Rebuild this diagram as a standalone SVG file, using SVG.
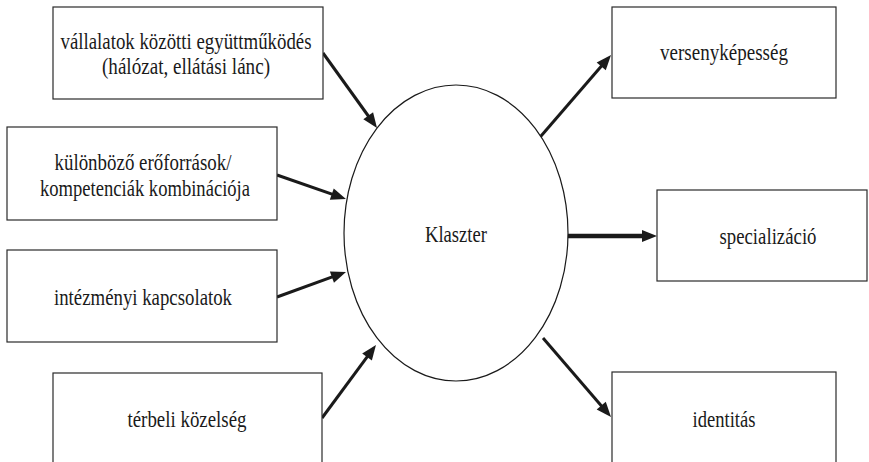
<svg xmlns="http://www.w3.org/2000/svg" width="869" height="462" viewBox="0 0 869 462">
<style>
.box{fill:#fff;stroke:#2a2a2a;stroke-width:1.2}
.ell{fill:#fff;stroke:#1a1a1a;stroke-width:1.2}
.t{font-family:"Liberation Serif","Times New Roman","DejaVu Serif",serif;font-size:23.5px;fill:#1a1a1a;text-anchor:middle}
.c{fill:none;stroke:#1a1a1a;stroke-width:3;stroke-linecap:butt}
.c.thick{stroke-width:4.5}
</style>
<defs>
<marker id="ah" markerUnits="userSpaceOnUse" markerWidth="16" markerHeight="13" refX="7" refY="6" orient="auto" overflow="visible">
<path d="M0,0 L15,6 L0,12 Z" fill="#1a1a1a"/>
</marker>
</defs>
<rect width="869" height="462" fill="#fff"/>
<g id="connectors">
<line class="c" x1="323" y1="53" x2="372.3" y2="121.5" marker-end="url(#ah)"/>
<line class="c" x1="277" y1="175" x2="338.4" y2="196.4" marker-end="url(#ah)"/>
<line class="c" x1="277" y1="297" x2="338.5" y2="274.7" marker-end="url(#ah)"/>
<line class="c" x1="322" y1="418" x2="371.2" y2="351.4" marker-end="url(#ah)"/>
<line class="c" x1="535" y1="143" x2="605.8" y2="61.1" marker-end="url(#ah)"/>
<line class="c thick" x1="567" y1="236" x2="649" y2="236" marker-end="url(#ah)"/>
<line class="c" x1="543" y1="338" x2="605.8" y2="410.9" marker-end="url(#ah)"/>
</g>
<g id="n-vallalatok">
<rect class="box" x="53" y="7" width="270" height="92"/>
<text class="t" x="186" y="49" textLength="251" lengthAdjust="spacingAndGlyphs">vállalatok közötti együttműködés</text>
<text class="t" x="186" y="74" textLength="168" lengthAdjust="spacingAndGlyphs">(hálózat, ellátási lánc)</text>
</g>
<g id="n-eroforrasok">
<rect class="box" x="7" y="127" width="270" height="93"/>
<text class="t" x="143" y="170" textLength="177" lengthAdjust="spacingAndGlyphs">különböző erőforrások/</text>
<text class="t" x="145" y="196" textLength="210" lengthAdjust="spacingAndGlyphs">kompetenciák kombinációja</text>
</g>
<g id="n-intezmenyi">
<rect class="box" x="7" y="250" width="270" height="92"/>
<text class="t" x="143" y="305" textLength="178" lengthAdjust="spacingAndGlyphs">intézményi kapcsolatok</text>
</g>
<g id="n-terbeli">
<rect class="box" x="53" y="373" width="269" height="100"/>
<text class="t" x="187" y="427" textLength="119" lengthAdjust="spacingAndGlyphs">térbeli közelség</text>
</g>
<g id="n-klaszter">
<ellipse class="ell" cx="456" cy="233" rx="112" ry="148"/>
<text class="t" x="456" y="242" textLength="62" lengthAdjust="spacingAndGlyphs">Klaszter</text>
</g>
<g id="n-versenykepesseg">
<rect class="box" x="612" y="7" width="224" height="91"/>
<text class="t" x="724" y="60" textLength="128" lengthAdjust="spacingAndGlyphs">versenyképesség</text>
</g>
<g id="n-specializacio">
<rect class="box" x="657" y="190" width="210" height="91"/>
<text class="t" x="768" y="244" textLength="97" lengthAdjust="spacingAndGlyphs">specializáció</text>
</g>
<g id="n-identitas">
<rect class="box" x="612" y="372" width="224" height="100"/>
<text class="t" x="724" y="427" textLength="63" lengthAdjust="spacingAndGlyphs">identitás</text>
</g>
</svg>
